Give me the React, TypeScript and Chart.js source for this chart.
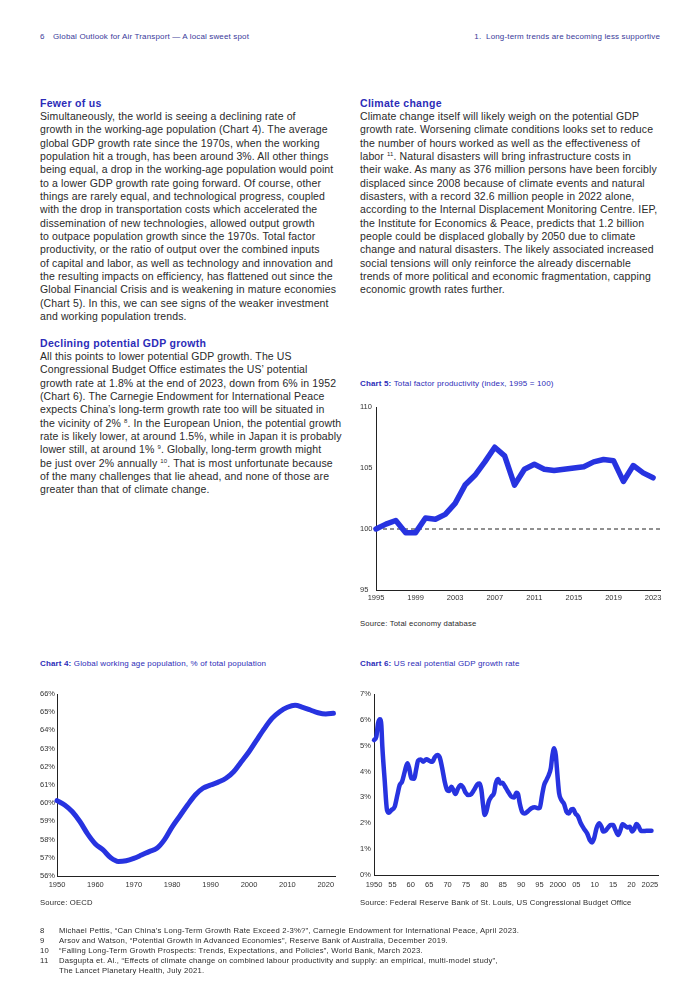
import React, { useEffect, useRef } from "react";
import { Chart, registerables } from "chart.js";

Chart.register(...registerables);

// ---------- Chart 5: Total factor productivity (index, 1995 = 100) ----------
const tfpYears = [1995, 1996, 1997, 1998, 1999, 2000, 2001, 2002, 2003, 2004, 2005, 2006, 2007, 2008, 2009, 2010, 2011, 2012, 2013, 2014, 2015, 2016, 2017, 2018, 2019, 2020, 2021, 2022, 2023];
const tfpIndex = [100.0, 100.4, 100.7, 99.7, 99.7, 100.9, 100.8, 101.2, 102.1, 103.6, 104.4, 105.5, 106.7, 106.0, 103.6, 104.9, 105.3, 104.9, 104.8, 104.9, 105.0, 105.1, 105.5, 105.7, 105.6, 103.9, 105.2, 104.6, 104.2];
const tfpXTicks = [1995, 1999, 2003, 2007, 2011, 2015, 2019, 2023];
const tfpXLabels = ["1995", "1999", "2003", "2007", "2011", "2015", "2019", "2023"];
const tfpYTicks = [95, 100, 105, 110];
const tfpYLabels = ["95", "100", "105", "110"];
const tfpBaseline = 100;

// ---------- Chart 4: Global working age population, % of total population ----------
const wapYears = [1950, 1952, 1954, 1956, 1958, 1960, 1962, 1964, 1966, 1968, 1970, 1972, 1974, 1976, 1978, 1980, 1982, 1984, 1986, 1988, 1990, 1992, 1994, 1996, 1998, 2000, 2002, 2004, 2006, 2008, 2010, 2012, 2014, 2016, 2018, 2020, 2022];
const wapShare = [60.14, 59.9, 59.53, 58.98, 58.3, 57.76, 57.43, 57.0, 56.8, 56.84, 56.97, 57.15, 57.34, 57.52, 58.0, 58.7, 59.3, 59.9, 60.45, 60.82, 61.0, 61.16, 61.37, 61.73, 62.28, 62.83, 63.47, 64.1, 64.66, 65.03, 65.27, 65.38, 65.27, 65.12, 64.97, 64.9, 64.94];
const wapXTicks = [1950, 1960, 1970, 1980, 1990, 2000, 2010, 2020];
const wapXLabels = ["1950", "1960", "1970", "1980", "1990", "2000", "2010", "2020"];
const wapYTicks = [56, 57, 58, 59, 60, 61, 62, 63, 64, 65, 66];
const wapYLabels = ["56%", "57%", "58%", "59%", "60%", "61%", "62%", "63%", "64%", "65%", "66%"];

// ---------- Chart 6: US real potential GDP growth rate ----------
const gdpYears = [1950.0, 1950.63, 1951.09, 1951.63, 1951.99, 1952.27, 1952.9, 1953.54, 1954.08, 1954.71, 1955.62, 1956.35, 1956.98, 1957.62, 1958.34, 1959.07, 1959.52, 1960.15, 1960.88, 1961.51, 1961.97, 1962.69, 1963.33, 1964.23, 1965.14, 1965.87, 1966.5, 1967.23, 1967.86, 1968.5, 1969.22, 1969.86, 1970.4, 1971.03, 1971.58, 1972.12, 1972.85, 1973.57, 1974.21, 1974.93, 1975.57, 1976.47, 1977.2, 1978.1, 1978.74, 1979.19, 1979.65, 1980.1, 1980.55, 1981.19, 1981.91, 1982.64, 1983.09, 1983.73, 1984.36, 1984.9, 1985.54, 1986.45, 1987.35, 1988.08, 1988.71, 1989.17, 1989.62, 1990.25, 1990.98, 1991.88, 1992.79, 1993.7, 1994.6, 1995.06, 1995.69, 1996.24, 1996.87, 1997.51, 1998.05, 1998.5, 1998.96, 1999.41, 1999.86, 2000.32, 2000.95, 2001.68, 2002.31, 2002.95, 2003.67, 2004.13, 2004.76, 2005.49, 2006.21, 2007.12, 2007.93, 2008.66, 2009.29, 2009.84, 2010.47, 2011.2, 2011.83, 2012.29, 2012.92, 2013.64, 2014.37, 2015.0, 2015.64, 2016.36, 2016.99, 2017.54, 2018.18, 2018.9, 2019.54, 2020.17, 2020.72, 2021.35, 2021.98, 2022.53, 2023.16, 2024.07, 2024.98, 2025.43];
const gdpGrowth = [5.22, 5.35, 5.86, 6.02, 5.8, 4.96, 3.67, 2.51, 2.41, 2.51, 2.64, 3.09, 3.48, 3.61, 3.99, 4.32, 4.16, 3.74, 3.72, 4.12, 4.42, 4.47, 4.38, 4.48, 4.41, 4.38, 4.55, 4.64, 4.55, 4.16, 3.61, 3.29, 3.25, 3.41, 3.29, 3.13, 3.35, 3.48, 3.39, 3.18, 3.09, 3.13, 3.29, 3.51, 3.54, 3.29, 2.71, 2.32, 2.45, 2.84, 3.03, 3.18, 3.54, 3.71, 3.54, 3.57, 3.44, 3.22, 3.03, 3.0, 3.18, 3.12, 2.77, 2.45, 2.38, 2.47, 2.58, 2.62, 2.58, 2.6, 3.09, 3.48, 3.67, 3.87, 4.12, 4.64, 4.9, 4.64, 3.87, 3.16, 2.9, 2.74, 2.45, 2.38, 2.54, 2.55, 2.38, 2.26, 2.0, 1.78, 1.61, 1.35, 1.26, 1.42, 1.8, 2.0, 1.87, 1.68, 1.71, 1.84, 1.93, 1.93, 1.74, 1.55, 1.74, 1.96, 1.91, 1.84, 1.87, 1.68, 1.77, 1.97, 1.87, 1.71, 1.7, 1.71, 1.71, 1.71];
const gdpXTicks = [1950, 1955, 1960, 1965, 1970, 1975, 1980, 1985, 1990, 1995, 2000, 2005, 2010, 2015, 2020, 2025];
const gdpXLabels = ["1950", "55", "60", "65", "70", "75", "80", "85", "90", "95", "2000", "05", "10", "15", "20", "2025"];
const gdpYTicks = [0, 1, 2, 3, 4, 5, 6, 7];
const gdpYLabels = ["0%", "1%", "2%", "3%", "4%", "5%", "6%", "7%"];

// ---------- Styling ----------
const LINE_BLUE = "#2733e0";
const TITLE_BLUE = "#2c2cb8";
const TEXT = "#2a2a2a";
const FONT = "'Liberation Sans', Arial, sans-serif";

type Spec = {
  xs: number[]; ys: number[];
  xMin: number; xMax: number; xTicks: number[]; xLabels: string[];
  yMin: number; yMax: number; yTicks: number[]; yLabels: string[];
  lineWidth: number; smooth: boolean;
  yAxisWidth: number; xAxisHeight: number; padTop: number; padRight: number; xTickPad: number;
  baseline?: number;
};

function makeChart(canvas: HTMLCanvasElement, s: Spec) {
  const datasets: any[] = [
    {
      data: s.xs.map((x, i) => ({ x, y: s.ys[i] })),
      borderColor: LINE_BLUE,
      borderWidth: s.lineWidth,
      pointRadius: 0,
      fill: false,
      tension: s.smooth ? 0.4 : 0,
      cubicInterpolationMode: s.smooth ? "monotone" : "default",
      borderJoinStyle: "round",
      borderCapStyle: "round",
      clip: false,
    },
  ];
  if (s.baseline !== undefined) {
    datasets.push({
      data: [{ x: s.xMin, y: s.baseline }, { x: s.xMax, y: s.baseline }],
      borderColor: "#222",
      borderWidth: 1,
      borderDash: [4, 3],
      pointRadius: 0,
      fill: false,
    });
  }
  const tickFont = { family: FONT, size: 7.5 };
  return new Chart(canvas, {
    type: "line",
    data: { datasets },
    options: {
      responsive: false,
      animation: false,
      devicePixelRatio: 1,
      events: [],
      layout: { padding: { top: s.padTop, right: s.padRight, left: 0, bottom: 0 } },
      plugins: { legend: { display: false }, tooltip: { enabled: false } },
      scales: {
        x: {
          type: "linear",
          min: s.xMin,
          max: s.xMax,
          grid: { display: false, drawTicks: false },
          border: { display: true, color: "#222", width: 1 },
          ticks: {
            font: tickFont,
            color: "#333",
            padding: s.xTickPad,
            maxRotation: 0,
            autoSkip: false,
            callback: (_v: any, i: number) => s.xLabels[i],
          },
          afterBuildTicks: (sc: any) => {
            sc.ticks = s.xTicks.map((v) => ({ value: v }));
          },
          afterFit: (sc: any) => {
            sc.height = s.xAxisHeight;
          },
        },
        y: {
          type: "linear",
          min: s.yMin,
          max: s.yMax,
          grid: { display: false, drawTicks: false },
          border: { display: true, color: "#222", width: 1 },
          ticks: {
            font: tickFont,
            color: "#333",
            crossAlign: "far",
            autoSkip: false,
            callback: (_v: any, i: number) => s.yLabels[i],
          },
          afterBuildTicks: (sc: any) => {
            sc.ticks = s.yTicks.map((v) => ({ value: v }));
          },
          afterFit: (sc: any) => {
            sc.width = s.yAxisWidth;
          },
        },
      },
    } as any,
  });
}

function ChartCanvas(props: { left: number; top: number; width: number; height: number; spec: Spec }) {
  const ref = useRef<HTMLCanvasElement>(null);
  useEffect(() => {
    if (!ref.current) return;
    const chart = makeChart(ref.current, props.spec);
    return () => chart.destroy();
  }, []);
  return (
    <canvas
      ref={ref}
      width={props.width}
      height={props.height}
      style={{ position: "absolute", left: props.left, top: props.top, width: props.width, height: props.height }}
    />
  );
}

// ---------- Text ----------
const LH = 13.33;

const leftColumn: { head?: string; text?: string }[] = [
  { head: "Fewer of us" },
  { text: "Simultaneously, the world is seeing a declining rate of" },
  { text: "growth in the working-age population (Chart 4). The average" },
  { text: "global GDP growth rate since the 1970s, when the working" },
  { text: "population hit a trough, has been around 3%. All other things" },
  { text: "being equal, a drop in the working-age population would point" },
  { text: "to a lower GDP growth rate going forward. Of course, other" },
  { text: "things are rarely equal, and technological progress, coupled" },
  { text: "with the drop in transportation costs which accelerated the" },
  { text: "dissemination of new technologies, allowed output growth" },
  { text: "to outpace population growth since the 1970s. Total factor" },
  { text: "productivity, or the ratio of output over the combined inputs" },
  { text: "of capital and labor, as well as technology and innovation and" },
  { text: "the resulting impacts on efficiency, has flattened out since the" },
  { text: "Global Financial Crisis and is weakening in mature economies" },
  { text: "(Chart 5). In this, we can see signs of the weaker investment" },
  { text: "and working population trends." },
  { text: "" },
  { head: "Declining potential GDP growth" },
  { text: "All this points to lower potential GDP growth. The US" },
  { text: "Congressional Budget Office estimates the US’ potential" },
  { text: "growth rate at 1.8% at the end of 2023, down from 6% in 1952" },
  { text: "(Chart 6). The Carnegie Endowment for International Peace" },
  { text: "expects China’s long-term growth rate too will be situated in" },
  { text: "the vicinity of 2% ^8^. In the European Union, the potential growth" },
  { text: "rate is likely lower, at around 1.5%, while in Japan it is probably" },
  { text: "lower still, at around 1% ^9^. Globally, long-term growth might" },
  { text: "be just over 2% annually ^10^. That is most unfortunate because" },
  { text: "of the many challenges that lie ahead, and none of those are" },
  { text: "greater than that of climate change." },
];

const rightColumn: { head?: string; text?: string }[] = [
  { head: "Climate change" },
  { text: "Climate change itself will likely weigh on the potential GDP" },
  { text: "growth rate. Worsening climate conditions looks set to reduce" },
  { text: "the number of hours worked as well as the effectiveness of" },
  { text: "labor ^11^. Natural disasters will bring infrastructure costs in" },
  { text: "their wake. As many as 376 million persons have been forcibly" },
  { text: "displaced since 2008 because of climate events and natural" },
  { text: "disasters, with a record 32.6 million people in 2022 alone," },
  { text: "according to the Internal Displacement Monitoring Centre. IEP," },
  { text: "the Institute for Economics & Peace, predicts that 1.2 billion" },
  { text: "people could be displaced globally by 2050 due to climate" },
  { text: "change and natural disasters. The likely associated increased" },
  { text: "social tensions will only reinforce the already discernable" },
  { text: "trends of more political and economic fragmentation, capping" },
  { text: "economic growth rates further." },
];

const footnotes: [string, string][] = [
  ["8", "Michael Pettis, “Can China’s Long-Term Growth Rate Exceed 2-3%?”, Carnegie Endowment for International Peace, April 2023."],
  ["9", "Arsov and Watson, “Potential Growth in Advanced Economies”, Reserve Bank of Australia, December 2019."],
  ["10", "“Falling Long-Term Growth Prospects: Trends, Expectations, and Policies”, World Bank, March 2023."],
  ["11", "Dasgupta et. Al., “Effects of climate change on combined labour productivity and supply: an empirical, multi-model study”,"],
  ["", "The Lancet Planetary Health, July 2021."],
];

function withSup(t: string) {
  const parts = t.split(/\^(\d+)\^/);
  return parts.map((p, i) =>
    i % 2 === 1 ? (
      <sup key={i} style={{ fontSize: 6, lineHeight: 0, verticalAlign: "4px" }}>{p}</sup>
    ) : (
      <span key={i}>{p}</span>
    )
  );
}

function Column(props: { left: number; top: number; lines: { head?: string; text?: string }[] }) {
  return (
    <div style={{ position: "absolute", left: props.left, top: props.top, fontFamily: FONT, fontSize: 10.5, letterSpacing: 0.12, color: TEXT }}>
      {props.lines.map((l, i) => (
        <div key={i} style={{ height: LH, lineHeight: `${LH}px`, whiteSpace: "nowrap" }}>
          {l.head ? (
            <span style={{ fontWeight: "bold", color: TITLE_BLUE, letterSpacing: 0.3 }}>{l.head}</span>
          ) : (
            withSup(l.text || "")
          )}
        </div>
      ))}
    </div>
  );
}

function Label(props: { x: number; y: number; size: number; color?: string; children: any; align?: "left" | "right"; spacing?: number }) {
  const h = props.size + 4;
  const style: any = {
    position: "absolute",
    top: props.y - h / 2,
    height: h,
    lineHeight: `${h}px`,
    fontFamily: FONT,
    fontSize: props.size,
    color: props.color || TEXT,
    whiteSpace: "nowrap",
    letterSpacing: props.spacing ?? 0.15,
  };
  if (props.align === "right") style.right = 700 - props.x;
  else style.left = props.x;
  return <div style={style}>{props.children}</div>;
}

function ChartTitle(props: { x: number; y: number; num: string; text: string }) {
  return (
    <Label x={props.x} y={props.y} size={8} color={TITLE_BLUE}>
      <span style={{ fontWeight: "bold" }}>{props.num}</span> {props.text}
    </Label>
  );
}

export default function App() {
  return (
    <div style={{ position: "absolute", left: 0, top: 0, width: 700, height: 990, background: "#fff", overflow: "hidden" }}>
      {/* Header */}
      <Label x={40} y={37} size={8} color="#3a3a9a">6</Label>
      <Label x={53} y={37} size={8} color="#3a3a9a">Global Outlook for Air Transport — A local sweet spot</Label>
      <Label x={660} y={37} size={8} color="#3a3a9a" align="right">1.&nbsp;&nbsp;Long-term trends are becoming less supportive</Label>

      {/* Body text */}
      <Column left={40} top={96.67} lines={leftColumn} />
      <Column left={360} top={96.67} lines={rightColumn} />

      {/* Chart 5 */}
      <ChartTitle x={360} y={384} num="Chart 5:" text="Total factor productivity (index, 1995 = 100)" />
      <ChartCanvas
        left={360}
        top={398}
        width={320}
        height={215}
        spec={{
          xs: tfpYears, ys: tfpIndex,
          xMin: 1995, xMax: 2023.7, xTicks: tfpXTicks, xLabels: tfpXLabels,
          yMin: 95, yMax: 110, yTicks: tfpYTicks, yLabels: tfpYLabels,
          lineWidth: 5.5, smooth: false,
          yAxisWidth: 16, xAxisHeight: 23, padTop: 9, padRight: 20, xTickPad: 3,
          baseline: tfpBaseline,
        }}
      />
      <Label x={360} y={624} size={7.7}>Source: Total economy database</Label>

      {/* Chart 4 */}
      <ChartTitle x={40} y={664} num="Chart 4:" text="Global working age population, % of total population" />
      <ChartCanvas
        left={40}
        top={685}
        width={310}
        height={215}
        spec={{
          xs: wapYears, ys: wapShare,
          xMin: 1950, xMax: 2022.4, xTicks: wapXTicks, xLabels: wapXLabels,
          yMin: 56, yMax: 66, yTicks: wapYTicks, yLabels: wapYLabels,
          lineWidth: 5, smooth: true,
          yAxisWidth: 17, xAxisHeight: 24, padTop: 9, padRight: 15, xTickPad: 4,
        }}
      />
      <Label x={40} y={903} size={7.7}>Source: OECD</Label>

      {/* Chart 6 */}
      <ChartTitle x={360} y={664} num="Chart 6:" text="US real potential GDP growth rate" />
      <ChartCanvas
        left={360}
        top={685}
        width={320}
        height={215}
        spec={{
          xs: gdpYears, ys: gdpGrowth,
          xMin: 1950, xMax: 2027.2, xTicks: gdpXTicks, xLabels: gdpXLabels,
          yMin: 0, yMax: 7, yTicks: gdpYTicks, yLabels: gdpYLabels,
          lineWidth: 4.5, smooth: true,
          yAxisWidth: 14, xAxisHeight: 25, padTop: 9, padRight: 22, xTickPad: 5,
        }}
      />
      <Label x={360} y={903} size={7.7}>Source: Federal Reserve Bank of St. Louis, US Congressional Budget Office</Label>

      {/* Footnotes */}
      {footnotes.map(([n, t], i) => (
        <React.Fragment key={i}>
          {n && <Label x={40} y={931 + i * 10} size={7.7} spacing={0.22}>{n}</Label>}
          <Label x={59} y={931 + i * 10} size={7.7} spacing={0.22}>{t}</Label>
        </React.Fragment>
      ))}
    </div>
  );
}
